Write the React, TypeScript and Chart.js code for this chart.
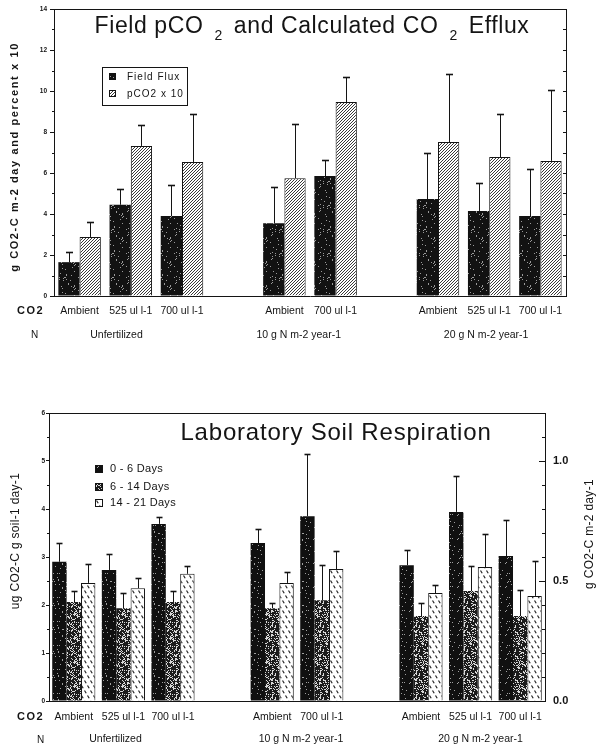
import React, { useEffect, useRef } from 'react';
import { Chart, registerables } from 'chart.js';
Chart.register(...registerables);

const FONT = '"Liberation Sans", Arial, Helvetica, sans-serif';
const INK = '#141414';

// ---------------- data ----------------
const co2Categories = ['Ambient', '525 ul l-1', '700 ul l-1', '', 'Ambient', '700 ul l-1', '', 'Ambient', '525 ul l-1', '700 ul l-1'];
const nGroupLabels = ['Unfertilized', '10 g N m-2 year-1', '20 g N m-2 year-1'];
const topGroupCenters = [0.72, 4.28, 7.94];
const bottomGroupCenters = [0.84, 4.58, 8.2];

// Top chart: field flux and pCO2 x 10
const fieldFlux = [1.65, 4.45, 3.9, null, 3.55, 5.85, null, 4.73, 4.15, 3.9];
const fieldFluxErrTop = [2.15, 5.2, 5.4, null, 5.3, 6.63, null, 6.98, 5.5, 6.2];
const pco2x10 = [2.88, 7.32, 6.54, null, 5.75, 9.46, null, 7.51, 6.78, 6.59];
const pco2x10ErrTop = [3.6, 8.34, 8.88, null, 8.39, 10.68, null, 10.83, 8.88, 10.05];
const topLegend = ['Field Flux', 'pCO2 x 10'];

// Bottom chart: laboratory soil respiration
const days0to6 = [2.9, 2.73, 3.69, null, 3.29, 3.85, null, 2.83, 3.94, 3.02];
const days0to6ErrTop = [3.29, 3.06, 3.83, null, 3.58, 5.15, null, 3.15, 4.69, 3.77];
const days6to14 = [2.06, 1.93, 2.06, null, 1.93, 2.1, null, 1.77, 2.29, 1.77];
const days6to14ErrTop = [2.29, 2.25, 2.29, null, 2.04, 2.83, null, 2.04, 2.81, 2.31];
const days14to21 = [2.46, 2.35, 2.65, null, 2.46, 2.75, null, 2.25, 2.79, 2.19];
const days14to21ErrTop = [2.85, 2.56, 2.81, null, 2.69, 3.13, null, 2.42, 3.48, 2.92];
const bottomLegend = ['0 - 6 Days', '6 - 14 Days', '14 - 21 Days'];

// ---------------- patterns ----------------
function hash2(i: number, j: number) {
  let h = (Math.imul(i, 374761393) + Math.imul(j, 668265263)) | 0;
  h = Math.imul(h ^ (h >>> 13), 1274126177);
  h = h ^ (h >>> 16);
  return (h >>> 0) / 4294967296;
}
function speckle(base: string, dot: string, density: number, seed: number) {
  const size = 24;
  const c = document.createElement('canvas');
  c.width = size; c.height = size;
  const g = c.getContext('2d')!;
  g.fillStyle = base; g.fillRect(0, 0, size, size);
  g.fillStyle = dot;
  for (let i = 0; i < size; i++) for (let j = 0; j < size; j++) if (hash2(i + seed, j + 3 * seed) < density) g.fillRect(i, j, 1, 1);
  return g.createPattern(c, 'repeat')!;
}
function hatch() {
  const s = 3;
  const c = document.createElement('canvas');
  c.width = s; c.height = s;
  const g = c.getContext('2d')!;
  g.fillStyle = '#fff'; g.fillRect(0, 0, s, s);
  g.strokeStyle = '#222'; g.lineWidth = 0.9;
  g.beginPath();
  g.moveTo(0, s); g.lineTo(s, 0);
  g.moveTo(-1, 1); g.lineTo(1, -1);
  g.moveTo(s - 1, s + 1); g.lineTo(s + 1, s - 1);
  g.stroke();
  return g.createPattern(c, 'repeat')!;
}
function dashes() {
  const w = 6, h = 10;
  const c = document.createElement('canvas');
  c.width = w; c.height = h;
  const g = c.getContext('2d')!;
  g.fillStyle = '#fff'; g.fillRect(0, 0, w, h);
  g.strokeStyle = '#222'; g.lineWidth = 1.2;
  g.beginPath();
  g.moveTo(0.5, 0.5); g.lineTo(2.2, 3.2);
  g.moveTo(3.5, 5.5); g.lineTo(5.2, 8.2);
  g.stroke();
  return g.createPattern(c, 'repeat')!;
}

// ---------------- helpers ----------------
function line(ctx: CanvasRenderingContext2D, x1: number, y1: number, x2: number, y2: number) {
  ctx.beginPath(); ctx.moveTo(x1, y1); ctx.lineTo(x2, y2); ctx.stroke();
}
function drawErrors(chart: any, errs: (number | null)[][], capHalf: number) {
  const ctx: CanvasRenderingContext2D = chart.ctx;
  const y = chart.scales.y;
  ctx.save();
  ctx.strokeStyle = INK;
  errs.forEach((arr, d) => {
    const meta = chart.getDatasetMeta(d);
    meta.data.forEach((bar: any, i: number) => {
      const v = arr[i];
      if (v == null) return;
      const top = Math.round(y.getPixelForValue(v)) + 0.5;
      const x = Math.round(bar.x) + 0.5;
      ctx.lineWidth = 1;
      line(ctx, x, bar.y, x, top);
      ctx.lineWidth = 1.6;
      line(ctx, x - capHalf, top, x + capHalf, top);
    });
  });
  ctx.restore();
}
function vText(ctx: CanvasRenderingContext2D, text: string, cx: number, cy: number, font: string, spacing: string) {
  ctx.save();
  ctx.translate(cx, cy);
  ctx.rotate(-Math.PI / 2);
  ctx.font = font;
  (ctx as any).letterSpacing = spacing;
  ctx.textAlign = 'center';
  ctx.textBaseline = 'middle';
  ctx.fillStyle = INK;
  ctx.fillText(text, 0, 0);
  ctx.restore();
}
function xLabels(chart: any, yCat: number, yGrp: number, grpCenters: number[], co2X: number, nX: number, nY: number) {
  const ctx: CanvasRenderingContext2D = chart.ctx;
  const x = chart.scales.x;
  ctx.save();
  ctx.fillStyle = INK;
  ctx.textBaseline = 'middle';
  ctx.textAlign = 'center';
  ctx.font = `10.5px ${FONT}`;
  co2Categories.forEach((l, i) => { if (l) ctx.fillText(l, x.getPixelForValue(i), yCat); });
  nGroupLabels.forEach((l, i) => ctx.fillText(l, x.getPixelForValue(grpCenters[i]), yGrp));
  ctx.textAlign = 'left';
  ctx.font = `bold 11px ${FONT}`;
  (ctx as any).letterSpacing = '1.5px';
  ctx.fillText('CO2', co2X, yCat);
  (ctx as any).letterSpacing = '0px';
  ctx.font = `10px ${FONT}`;
  ctx.fillText('N', nX, nY);
  ctx.restore();
}

// ---------------- top chart ----------------
function TopChart() {
  const ref = useRef<HTMLCanvasElement>(null);
  useEffect(() => {
    const blackPat = speckle('#121212', '#9a9a9a', 0.05, 5);
    const hatchPat = hatch();
    const decor = {
      id: 'topDecor',
      afterDatasetsDraw(chart: any) {
        drawErrors(chart, [fieldFluxErrTop, pco2x10ErrTop], 3.5);
      },
      afterDraw(chart: any) {
        const ctx: CanvasRenderingContext2D = chart.ctx;
        const a = chart.chartArea;
        const y = chart.scales.y;
        ctx.save();
        ctx.strokeStyle = INK; ctx.lineWidth = 1;
        line(ctx, a.left, a.top + 0.5, a.right, a.top + 0.5);
        for (let v = 1; v < 14; v += 2) {
          const py = Math.round(y.getPixelForValue(v)) + 0.5;
          line(ctx, a.left - 2, py, a.left, py);
        }
        for (let v = 1; v < 14; v++) {
          const py = Math.round(y.getPixelForValue(v)) + 0.5;
          line(ctx, a.right - 3, py, a.right, py);
        }
        // title
        const parts = [
          { t: 'Field pCO', sub: false }, { t: '2', sub: true },
          { t: 'and Calculated CO', sub: false }, { t: '2', sub: true }, { t: 'Efflux', sub: false },
        ];
        const big = `23px ${FONT}`, small = `14px ${FONT}`, gap = 11;
        (ctx as any).letterSpacing = '0.6px';
        let total = 0;
        parts.forEach((p, i) => { ctx.font = p.sub ? small : big; total += ctx.measureText(p.t).width + (i ? gap : 0); });
        let cx = (a.left + a.right) / 2 - total / 2 + 2;
        ctx.fillStyle = INK; ctx.textAlign = 'left'; ctx.textBaseline = 'alphabetic';
        parts.forEach((p) => {
          ctx.font = p.sub ? small : big;
          ctx.fillText(p.t, cx, p.sub ? 40 : 33);
          cx += ctx.measureText(p.t).width + gap;
        });
        (ctx as any).letterSpacing = '0px';
        // legend
        ctx.lineWidth = 1;
        ctx.strokeRect(102.5, 67.5, 85, 38);
        ctx.fillStyle = blackPat; ctx.fillRect(109, 73, 7, 7);
        ctx.fillStyle = hatchPat; ctx.fillRect(109, 90, 7, 7);
        ctx.strokeRect(109.5, 90.5, 6, 6);
        ctx.fillStyle = INK; ctx.font = `10px ${FONT}`; ctx.textBaseline = 'middle';
        (ctx as any).letterSpacing = '1px';
        ctx.fillText(topLegend[0], 127, 77);
        ctx.fillText(topLegend[1], 127, 94);
        ctx.restore();
        xLabels(chart, 311, 335, topGroupCenters, 17, 31, 335);
        vText(ctx, 'g CO2-C m-2 day and percent x 10', 15, 157, `bold 11px ${FONT}`, '1.6px');
      },
    };
    const chart = new Chart(ref.current!, {
      type: 'bar',
      data: {
        labels: co2Categories,
        datasets: [
          { label: topLegend[0], data: fieldFlux, backgroundColor: blackPat, borderWidth: 0 },
          { label: topLegend[1], data: pco2x10, backgroundColor: hatchPat, borderColor: INK, borderWidth: 1 },
        ],
      },
      options: {
        animation: false,
        responsive: false,
        layout: { padding: { top: 9, left: 0, right: 0, bottom: 0 } },
        plugins: { legend: { display: false }, tooltip: { enabled: false }, title: { display: false } },
        datasets: { bar: { categoryPercentage: 0.83, barPercentage: 1 } },
        scales: {
          x: {
            type: 'category', offset: true,
            grid: { display: false },
            border: { display: true, color: INK, width: 1 },
            ticks: { display: false },
            afterFit: (s: any) => { s.height = 74; s.paddingLeft = 0; s.paddingRight = 0; },
          },
          y: {
            position: 'left', min: 0, max: 14,
            ticks: { stepSize: 2, color: INK, padding: 3, font: { family: FONT, size: 6.5, weight: 'bold' } },
            grid: { drawOnChartArea: false, tickLength: 4, color: INK },
            border: { display: true, color: INK, width: 1 },
            afterFit: (s: any) => { s.width = 54; s.paddingTop = 0; s.paddingBottom = 0; },
          },
          y2: {
            position: 'right', min: 0, max: 14,
            ticks: { display: false },
            grid: { display: false, drawTicks: false },
            border: { display: true, color: INK, width: 1 },
            afterFit: (s: any) => { s.width = 33; s.paddingTop = 0; s.paddingBottom = 0; },
          },
        },
      } as any,
      plugins: [decor],
    });
    return () => chart.destroy();
  }, []);
  return <canvas ref={ref} width={599} height={370} style={{ position: 'absolute', left: 0, top: 0 }} />;
}

// ---------------- bottom chart ----------------
function BottomChart() {
  const ref = useRef<HTMLCanvasElement>(null);
  useEffect(() => {
    const blackPat = speckle('#101010', '#a0a0a0', 0.05, 11);
    const grayPat = speckle('#1c1c1c', '#d8d8d8', 0.33, 17);
    const dashPat = dashes();
    const pats = [blackPat, grayPat, dashPat];
    const decor = {
      id: 'bottomDecor',
      afterDatasetsDraw(chart: any) {
        drawErrors(chart, [days0to6ErrTop, days6to14ErrTop, days14to21ErrTop], 3);
      },
      afterDraw(chart: any) {
        const ctx: CanvasRenderingContext2D = chart.ctx;
        const a = chart.chartArea;
        const y = chart.scales.y;
        const y2 = chart.scales.y2;
        ctx.save();
        ctx.strokeStyle = INK; ctx.lineWidth = 1;
        line(ctx, a.left, a.top + 0.5, a.right, a.top + 0.5);
        for (let v = 0.5; v < 6; v += 1) {
          const py = Math.round(y.getPixelForValue(v)) + 0.5;
          line(ctx, a.left - 2, py, a.left, py);
        }
        for (let k = 1; k < 12; k++) {
          const v = k / 10;
          const py = Math.round(y2.getPixelForValue(v)) + 0.5;
          const len = k % 5 === 0 ? 6 : 3;
          line(ctx, a.right - len, py, a.right, py);
        }
        // title
        ctx.fillStyle = INK; ctx.font = `24px ${FONT}`;
        (ctx as any).letterSpacing = '0.8px';
        ctx.textAlign = 'center'; ctx.textBaseline = 'alphabetic';
        ctx.fillText('Laboratory Soil Respiration', 336, 70);
        (ctx as any).letterSpacing = '0px';
        // legend
        const ly = [99, 117, 133];
        bottomLegend.forEach((t, i) => {
          ctx.fillStyle = pats[i];
          ctx.fillRect(95, ly[i] - 4, 8, 8);
          ctx.strokeRect(95.5, ly[i] - 3.5, 7, 7);
          ctx.fillStyle = INK; ctx.font = `11px ${FONT}`; ctx.textAlign = 'left'; ctx.textBaseline = 'middle';
          (ctx as any).letterSpacing = '0.3px';
          ctx.fillText(t, 110, ly[i]);
        });
        ctx.restore();
        xLabels(chart, 347, 369, bottomGroupCenters, 17, 37, 370);
        vText(ctx, 'ug CO2-C g soil-1 day-1', 16, 171, `12px ${FONT}`, '0.3px');
        vText(ctx, 'g CO2-C m-2 day-1', 590, 164, `12px ${FONT}`, '0.3px');
      },
    };
    const chart = new Chart(ref.current!, {
      type: 'bar',
      data: {
        labels: co2Categories,
        datasets: [
          { label: bottomLegend[0], data: days0to6, backgroundColor: blackPat, borderWidth: 0 },
          { label: bottomLegend[1], data: days6to14, backgroundColor: grayPat, borderWidth: 0 },
          { label: bottomLegend[2], data: days14to21, backgroundColor: dashPat, borderColor: INK, borderWidth: 1 },
        ],
      },
      options: {
        animation: false,
        responsive: false,
        layout: { padding: { top: 43, left: 0, right: 0, bottom: 0 } },
        plugins: { legend: { display: false }, tooltip: { enabled: false }, title: { display: false } },
        datasets: { bar: { categoryPercentage: 0.87, barPercentage: 1 } },
        scales: {
          x: {
            type: 'category', offset: true,
            grid: { display: false },
            border: { display: true, color: INK, width: 1 },
            ticks: { display: false },
            afterFit: (s: any) => { s.height = 45; s.paddingLeft = 0; s.paddingRight = 0; },
          },
          y: {
            position: 'left', min: 0, max: 6,
            ticks: { stepSize: 1, color: INK, padding: 1, font: { family: FONT, size: 6.5, weight: 'bold' } },
            grid: { drawOnChartArea: false, tickLength: 3, color: INK },
            border: { display: true, color: INK, width: 1 },
            afterFit: (s: any) => { s.width = 49; s.paddingTop = 0; s.paddingBottom = 0; },
          },
          y2: {
            position: 'right', min: 0, max: 1.2,
            ticks: {
              stepSize: 0.5, includeBounds: false, color: INK, padding: 8,
              font: { family: FONT, size: 11, weight: 'bold' },
              callback: (v: any) => Number(v).toFixed(1),
            },
            grid: { display: false, drawTicks: false },
            border: { display: true, color: INK, width: 1 },
            afterFit: (s: any) => { s.width = 54; s.paddingTop = 0; s.paddingBottom = 0; },
          },
        },
      } as any,
      plugins: [decor],
    });
    return () => chart.destroy();
  }, []);
  return <canvas ref={ref} width={599} height={376} style={{ position: 'absolute', left: 0, top: 370 }} />;
}

export default function App() {
  return (
    <div style={{ position: 'absolute', left: 0, top: 0, width: 599, height: 746, background: '#fff', overflow: 'hidden' }}>
      <TopChart />
      <BottomChart />
    </div>
  );
}
